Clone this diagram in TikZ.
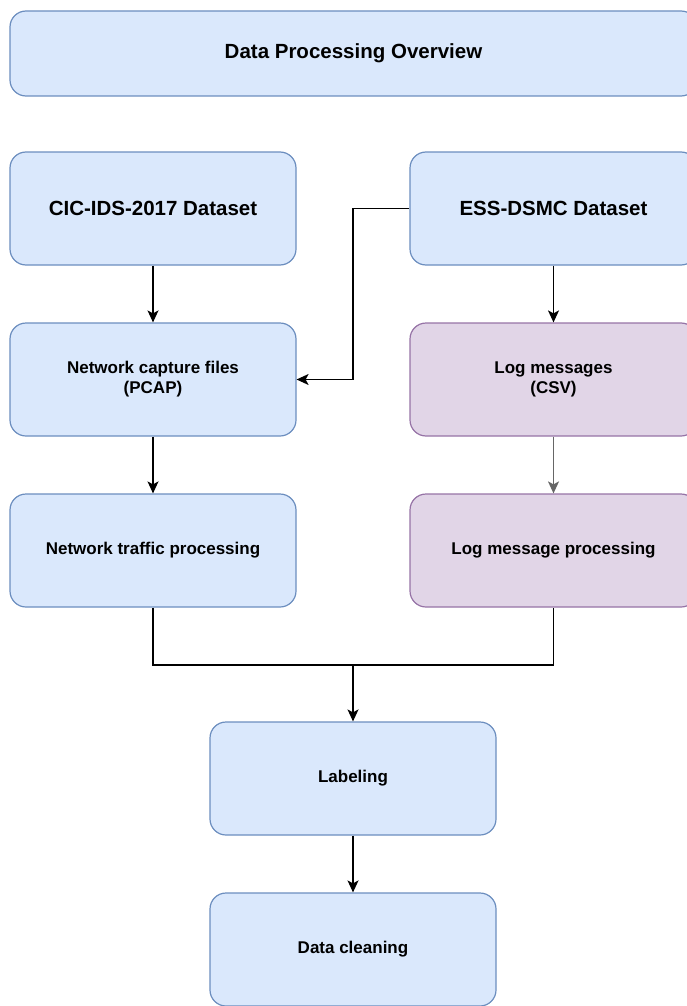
\documentclass[tikz,border=0pt]{standalone}
\usepackage{fontspec}
\setmainfont{Liberation Sans}
\usetikzlibrary{arrows.meta}
\definecolor{bluefill}{HTML}{DAE8FC}
\definecolor{bluedraw}{HTML}{6C8EBF}
\definecolor{purplefill}{HTML}{E1D5E7}
\definecolor{purpledraw}{HTML}{9673A6}
\definecolor{greyline}{HTML}{666666}
\begin{document}
\begin{tikzpicture}[x=1pt,y=1pt,
  box/.style={rectangle, rounded corners=16pt, line width=1.2pt,
    minimum width=286pt, minimum height=113pt, align=center, inner sep=0pt,
    font=\fontsize{17}{20}\selectfont\bfseries},
  bluebox/.style={box, fill=bluefill, draw=bluedraw},
  purplebox/.style={box, fill=purplefill, draw=purpledraw},
  headfont/.style={font=\fontsize{20.5}{24}\selectfont\bfseries},
  arr/.style={-{Stealth[length=12pt,width=11pt,inset=3pt]}, line width=1.3pt, draw=black},
  link/.style={line width=1.3pt, draw=black}]
\useasboundingbox (0,0) rectangle (687,-1006);

% title banner
\node[bluebox, headfont, minimum width=687pt, minimum height=85pt] (title) at (353.5,-53.5) {Data Processing Overview};

% dataset sources
\node[bluebox, headfont] (cic) at (153,-208.5) {CIC-IDS-2017 Dataset};
\node[bluebox, headfont, minimum width=287pt] (ess) at (553.5,-208.5) {ESS-DSMC Dataset};

% raw data
\node[bluebox] (pcap) at (153,-379.5) {Network capture files\\(PCAP)};
\node[purplebox, minimum width=287pt] (logm) at (553.5,-379.5) {Log messages\\(CSV)};

% processing
\node[bluebox] (net) at (153,-550.5) {Network traffic processing};
\node[purplebox, minimum width=287pt] (logp) at (553.5,-550.5) {Log message processing};

% common steps
\node[bluebox] (lab) at (353,-778.5) {Labeling};
\node[bluebox] (clean) at (353,-949.5) {Data cleaning};

\coordinate (merge) at (353,-665);

% connectors
\draw[arr] (cic.south) -- (pcap.north);
\draw[arr] (ess.west) -- (ess.west -| lab.north) |- (pcap.east);
\draw[arr] (ess.south) -- (logm.north);
\draw[arr, draw=greyline] (logm.south) -- (logp.north);
\draw[arr] (pcap.south) -- (net.north);
\draw[link] (net.south) |- (merge) -| (logp.south);
\draw[arr] (merge) -- (lab.north);
\draw[arr] (lab.south) -- (clean.north);
\end{tikzpicture}
\end{document}
